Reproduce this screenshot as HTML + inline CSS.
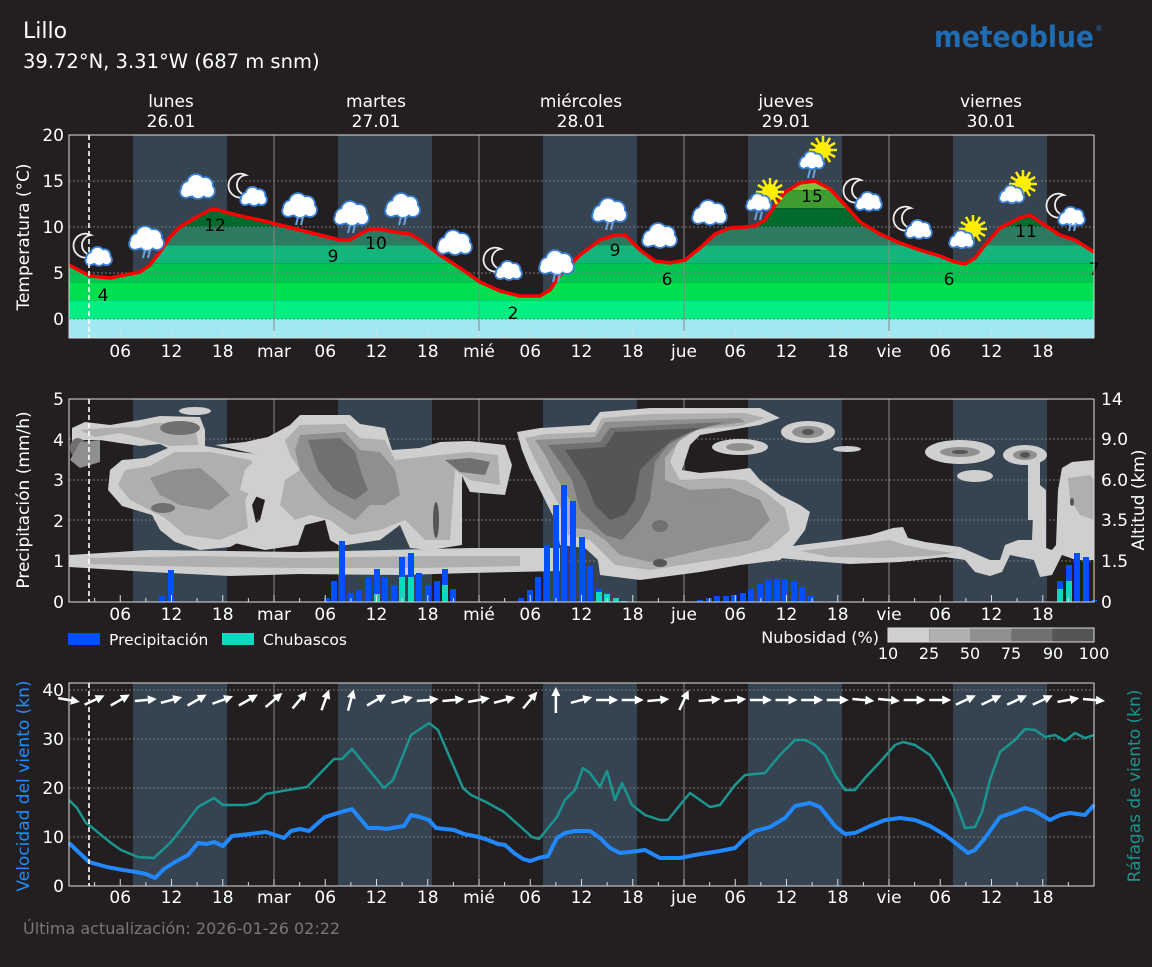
<!DOCTYPE html>
<html><head><meta charset="utf-8">
<style>
html,body{margin:0;padding:0;background:#231f20;}
body{width:1152px;height:963px;overflow:hidden;font-family:"DejaVu Sans","Liberation Sans",sans-serif;}
svg text{font-family:"DejaVu Sans","Liberation Sans",sans-serif;}
</style></head>
<body>
<svg id="s" width="1152" height="963" viewBox="0 0 1152 963" xmlns="http://www.w3.org/2000/svg">
<rect width="1152" height="963" fill="#231f20"/>
<text x="23" y="38" fill="#fff" font-size="22">Lillo</text>
<text x="23" y="68" fill="#fff" font-size="19.5">39.72°N, 3.31°W (687 m snm)</text>
<text x="934" y="47" fill="#1f6cb3" font-size="29" font-weight="bold" textLength="160" lengthAdjust="spacingAndGlyphs">meteoblue</text>
<text x="1095" y="31" fill="#1f6cb3" font-size="8">®</text>
<g fill="#fff" font-size="17" text-anchor="middle">
<text x="171" y="107">lunes</text><text x="171" y="127">26.01</text>
<text x="376" y="107">martes</text><text x="376" y="127">27.01</text>
<text x="581" y="107">miércoles</text><text x="581" y="127">28.01</text>
<text x="786" y="107">jueves</text><text x="786" y="127">29.01</text>
<text x="991" y="107">viernes</text><text x="991" y="127">30.01</text>
</g>
<defs>
<clipPath id="tclip"><path id="tpath"/></clipPath>
</defs>
<g id="g1"></g>
<g id="g2"></g>
<g id="g3"></g>
<!-- legend -->
<rect x="68" y="633" width="32" height="12" fill="#0050ff"/>
<text x="109" y="645" fill="#fff" font-size="15.5">Precipitación</text>
<rect x="222" y="633" width="32" height="12" fill="#10d8c0"/>
<text x="263" y="645" fill="#fff" font-size="15.5">Chubascos</text>
<text x="879" y="643" fill="#fff" font-size="16" text-anchor="end">Nubosidad (%)</text>
<rect x="888" y="628" width="41.2" height="14" fill="#cfcfcf"/>
<rect x="929.2" y="628" width="41.2" height="14" fill="#afafaf"/>
<rect x="970.4" y="628" width="41.2" height="14" fill="#8f8f8f"/>
<rect x="1011.6" y="628" width="41.2" height="14" fill="#707070"/>
<rect x="1052.8" y="628" width="41.2" height="14" fill="#555"/>
<rect x="888" y="628" width="206" height="14" fill="none" stroke="#ddd" stroke-width="1"/>
<g fill="#fff" font-size="16" text-anchor="middle">
<text x="888" y="659">10</text><text x="929" y="659">25</text><text x="970" y="659">50</text><text x="1011" y="659">75</text><text x="1053" y="659">90</text><text x="1094" y="659">100</text>
</g>
<text x="23" y="934" fill="#777" font-size="16">Última actualización: 2026-01-26 02:22</text>
</svg>
<script>
const NS="http://www.w3.org/2000/svg";
function el(p,tag,attrs,txt){const e=document.createElementNS(NS,tag);for(const k in attrs)e.setAttribute(k,attrs[k]);if(txt!==undefined)e.textContent=txt;p.appendChild(e);return e;}
const X=h=>69+h*205/24;
const L=69,R=1094;
const g1=document.getElementById('g1'),g2=document.getElementById('g2'),g3=document.getElementById('g3');
const days=[[133,227],[338,432],[543,637],[748,842],[953,1047]];
function bg(g,top,bot){
  el(g,'rect',{x:L,y:top,width:R-L,height:bot-top,fill:'#231f20'});
  days.forEach(d=>el(g,'rect',{x:d[0],y:top,width:d[1]-d[0],height:bot-top,fill:'#354450'}));
}
function vgrid(g,top,bot){[274,479,684,889].forEach(x=>el(g,'line',{x1:x,y1:top,x2:x,y2:bot,stroke:'#888','stroke-width':1}));}
function hgrid(g,ys){ys.forEach(y=>el(g,'line',{x1:L,y1:y,x2:R,y2:y,stroke:'#777','stroke-width':1,'stroke-dasharray':'2,2'}));}
function axes(g,top,bot,ly){
  for(let h=3;h<120;h+=3){const x=X(h);el(g,'line',{x1:x,y1:bot,x2:x,y2:bot-(h%6?4:7),stroke:'#ddd','stroke-width':1});}
  const names={24:'mar',48:'mié',72:'jue',96:'vie'};
  for(let h=6;h<120;h+=6){const t=names[h]||String(h%24).padStart(2,'0');el(g,'text',{x:X(h),y:ly,fill:'#fff','font-size':17,'text-anchor':'middle'},t);}
  el(g,'rect',{x:L,y:top,width:R-L,height:bot-top,fill:'none',stroke:'#ddd','stroke-width':1});
  el(g,'line',{x1:89,y1:top,x2:89,y2:bot,stroke:'#fff','stroke-width':1.6,'stroke-dasharray':'5,3'});
}
// ---------- Panel 1 ----------
bg(g1,135,338);
const tp=[[69,265],[90,276],[110,278],[130,274],[140,272],[150,265],[160,252],[170,237],[180,227],[195,218],[210,210],[215,209],[225,212],[245,217],[260,220],[280,225],[300,230],[320,235],[340,240],[350,240],[360,234],[370,229],[380,229],[395,232],[410,234],[420,240],[440,255],[460,268],[480,282],[500,291],[520,296],[540,296],[550,290],[560,275],[580,255],[600,240],[615,235],[625,235],[640,250],[655,261],[670,263],[685,260],[700,248],[715,234],[730,228],[745,227],[755,226],[765,220],[775,205],[785,192],[800,183],[815,181],[830,189],[845,205],[860,222],[880,234],[900,243],[920,250],[940,256],[955,262],[965,264],[975,258],[985,245],[1000,228],[1020,218],[1030,215],[1040,222],[1060,235],[1075,240],[1094,252]];
const tline=tp.map((p,i)=>(i?'L':'M')+p[0]+','+p[1]).join(' ');
document.getElementById('tpath').setAttribute('d',tline+' L1094,338 L69,338 Z');
const bands=[[319,338,'#a0e8f4'],[300,319,'#00ee82'],[282,300,'#00e04e'],[263,282,'#00c650'],[245,263,'#12b67a'],[227,245,'#2c7a60'],[208,227,'#006b2c'],[190,208,'#3e9c30'],[150,190,'#7cc23a']];
const cg=el(g1,'g',{'clip-path':'url(#tclip)'});
bands.forEach(b=>{el(cg,'rect',{x:L,y:b[0],width:R-L,height:b[1]-b[0],fill:b[2]});el(cg,'line',{x1:L,y1:b[0],x2:R,y2:b[0],stroke:'rgba(0,60,30,0.35)','stroke-width':1});});
el(g1,'rect',{x:L,y:319,width:R-L,height:19,fill:'#a0e8f4'});
vgrid(g1,135,338);
hgrid(g1,[181,227,273,319]);
el(g1,'path',{d:tline,fill:'none',stroke:'#ff0000','stroke-width':3.5,'stroke-linejoin':'round'});
[['4',103,301],['12',215,231],['9',333,262],['10',376,249],['2',513,319],['9',615,256],['6',667,285],['15',812,202],['6',949,285],['11',1026,237],['7',1094,275]].forEach(t=>el(g1,'text',{x:t[1],y:t[2],fill:'#000','font-size':17,'text-anchor':'middle'},t[0]));
function cloud(g,cx,cy,s){
  const parts=[[-9,3,7],[-2,-3,8],[7,-1,7],[10,5,6],[0,5,7],[-12,6,5]];
  const gg=el(g,'g',{});
  parts.forEach(p=>el(gg,'circle',{cx:cx+p[0]*s,cy:cy+p[1]*s,r:p[2]*s+1.8,fill:'#3a80d8'}));
  parts.forEach(p=>el(gg,'circle',{cx:cx+p[0]*s,cy:cy+p[1]*s,r:p[2]*s,fill:'#fff'}));
}
function rain(g,cx,cy){el(g,'line',{x1:cx-2,y1:cy,x2:cx-4,y2:cy+8,stroke:'#6fa0e0','stroke-width':2});el(g,'line',{x1:cx+3,y1:cy,x2:cx+1,y2:cy+8,stroke:'#6fa0e0','stroke-width':2});}
function moon(g,cx,cy){el(g,'path',{d:`M${cx+4},${cy-12} A12,12 0 1 0 ${cx+6},${cy+8} A10,10 0 0 1 ${cx+4},${cy-12} Z`,fill:'#231f20',stroke:'#eee','stroke-width':1.8});}
function sun(g,cx,cy){for(let a=0;a<360;a+=30){const r=a*Math.PI/180;el(g,'line',{x1:cx+Math.cos(r)*7,y1:cy+Math.sin(r)*7,x2:cx+Math.cos(r)*14,y2:cy+Math.sin(r)*14,stroke:'#ffee00','stroke-width':2.5});}el(g,'circle',{cx:cx,cy:cy,r:8,fill:'#ffee00'});}
const icons=[['mc',95,253],['cr',147,238],['c',198,186],['mc',250,193],['cr',300,205],['cr',352,213],['cr',403,205],['c',455,242],['mc',505,267],['cr',557,262],['cr',610,210],['c',660,235],['c',710,212],['scr',762,200],['scr',815,158],['mc',865,198],['mc',915,226],['sc',965,237],['sc',1015,192],['mcr',1068,213]];
icons.forEach(i=>{const [t,x,y]=i;
  if(t[0]=='m'){moon(g1,x-8,y-6);cloud(g1,x+4,y+3,0.75);if(t=='mcr')rain(g1,x+5,y+10);}
  else if(t[0]=='s'){sun(g1,x+8,y-8);cloud(g1,x-3,y+2,0.7);if(t=='scr')rain(g1,x-3,y+12);}
  else{cloud(g1,x,y,1);if(t=='cr')rain(g1,x,y+12);}
});
axes(g1,135,338,357);
[['20',141],['15',187],['10',233],['5',279],['0',325]].forEach(t=>el(g1,'text',{x:64,y:t[1],fill:'#fff','font-size':17,'text-anchor':'end'},t[0]));
el(g1,'text',{transform:'translate(29,237) rotate(-90)',fill:'#fff','font-size':17,'text-anchor':'middle'},'Temperatura (°C)');
// ---------- Panel 2 ----------
bg(g2,399,602);
vgrid(g2,399,602);
hgrid(g2,[439,480,520,561]);
const C=['#cfcfcf','#afafaf','#8f8f8f','#707070','#555'];
function P(c,d){el(g2,'path',{d:d,fill:C[c]});}
function E(c,cx,cy,rx,ry){el(g2,'ellipse',{cx,cy,rx,ry,fill:C[c]});}
P(0,'M69,555 L150,550 L300,552 L470,548 L560,548 L560,571 L470,573 L400,575 L300,574 L230,576 L150,572 L69,567 Z');
P(1,'M90,558 L200,556 L300,558 L420,556 L520,556 L520,566 L420,568 L300,568 L200,567 L90,564 Z');
P(0,'M72,428 L85,422 L110,425 L140,420 L160,416 L200,417 L205,430 L205,446 L240,452 L265,455 L275,465 L265,480 L252,505 L258,532 L230,547 L200,550 L175,542 L160,530 L152,515 L122,506 L108,490 L110,470 L122,460 L145,458 L168,448 L160,444 L140,446 L100,440 L85,440 L72,442 Z');
P(1,'M80,430 L105,428 L140,427 L155,423 L195,424 L198,445 L170,446 L148,440 L120,433 L95,437 Z');
P(1,'M125,470 L150,466 L175,452 L210,452 L250,460 L262,470 L245,500 L248,528 L220,540 L185,535 L165,518 L130,500 L118,485 Z');
P(2,'M150,478 L175,470 L200,468 L215,480 L230,495 L210,510 L180,505 L160,495 Z');
E(3,163,508,12,5);E(3,180,428,20,7);E(3,78,448,8,10);E(0,195,411,16,4);
P(2,'M80,442 L100,440 L100,462 L80,468 L70,460 Z');
P(0,'M215,445 L245,442 L268,437 L290,425 L300,415 L350,415 L360,424 L385,428 L392,450 L420,448 L440,442 L470,441 L505,445 L512,465 L505,495 L470,492 L462,476 L462,545 L430,550 L410,548 L400,525 L380,540 L340,546 L330,540 L325,520 L305,525 L298,545 L265,550 L230,542 L260,520 L265,500 L240,490 L245,470 L260,455 Z');
P(1,'M285,440 L300,425 L345,424 L360,438 L385,440 L395,460 L430,456 L470,452 L498,455 L500,485 L470,480 L455,470 L450,540 L425,540 L405,520 L380,530 L350,535 L330,520 L310,515 L295,520 L280,505 L285,480 L300,470 L290,455 Z');
P(2,'M300,435 L345,432 L360,450 L380,452 L395,470 L400,495 L385,505 L370,505 L355,520 L330,505 L315,490 L300,470 L295,450 Z');
P(3,'M308,440 L340,438 L355,452 L362,475 L368,490 L355,500 L335,490 L318,470 Z');
P(3,'M445,460 L470,458 L490,462 L485,475 L460,472 Z');
E(4,436,520,3,18);
P(0,'M517,432 L540,428 L590,425 L600,412 L650,408 L760,408 L780,418 L760,425 L700,435 L690,445 L682,470 L700,473 L735,470 L750,468 L760,480 L780,495 L800,505 L810,512 L805,530 L790,550 L780,560 L740,565 L700,572 L640,580 L600,575 L598,560 L585,548 L560,545 L555,520 L540,490 L530,470 L522,450 Z');
P(1,'M525,438 L545,434 L595,432 L602,418 L650,414 L745,413 L765,418 L740,426 L695,430 L678,442 L670,462 L680,480 L720,478 L745,480 L765,492 L785,508 L790,530 L770,548 L740,556 L700,562 L650,570 L615,565 L600,550 L590,540 L568,535 L562,510 L548,485 L535,460 Z');
P(2,'M535,440 L595,437 L605,422 L660,420 L740,418 L745,422 L700,428 L680,440 L665,458 L665,480 L690,490 L730,488 L760,500 L770,520 L750,540 L710,548 L680,555 L650,562 L620,555 L605,540 L590,530 L575,528 L570,500 L555,475 L545,455 Z');
P(3,'M548,445 L600,442 L610,428 L660,425 L725,422 L690,432 L668,445 L655,462 L650,500 L640,520 L622,540 L605,535 L592,522 L580,510 L572,480 L560,462 Z');
P(4,'M565,450 L605,447 L615,432 L660,430 L700,428 L672,440 L655,455 L640,470 L635,500 L625,515 L610,520 L595,505 L585,480 L575,465 Z');
P(2,'M690,500 L720,495 L735,505 L725,520 L700,525 L690,515 Z');
E(4,660,563,7,4);E(3,660,526,8,6);
E(0,740,447,28,8);E(2,740,447,14,4);E(0,808,432,27,11);E(2,808,432,16,6);E(4,808,432,6,3);E(0,847,449,14,3);
P(0,'M765,550 L800,545 L840,540 L870,535 L893,528 L903,527 L908,538 L925,542 L960,547 L990,560 L1000,560 L1005,545 L1018,540 L1032,540 L1034,490 L1040,485 L1046,490 L1046,548 L1052,550 L1056,545 L1058,490 L1062,468 L1072,462 L1094,460 L1094,560 L1076,560 L1062,555 L1052,575 L1040,577 L1034,560 L1010,555 L1002,572 L990,576 L975,572 L965,560 L945,557 L900,562 L850,564 L800,560 L770,557 Z');
P(1,'M800,551 L850,545 L890,540 L905,545 L930,550 L955,553 L930,556 L880,558 L830,557 Z');
P(1,'M1068,478 L1090,475 L1094,480 L1094,520 L1080,515 L1070,500 Z');
E(0,960,452,35,12);E(2,960,452,20,5);E(4,960,452,8,2);E(0,975,476,18,6);
E(0,1025,455,22,10);E(2,1025,455,12,5);E(4,1025,455,5,3);P(0,'M1028,460 L1040,460 L1040,520 L1028,520 Z');
E(4,1072,502,2,4);
const bars=[[162,596],[171,570],[327,598],[334,581],[342,541],[351,593],[359,590],[368,577],[377,569,594],[385,577],[394,585],[402,557,577],[411,553,577],[419,573],[428,585],[437,581],[445,569,585],[453,589],
[521,598],[530,590],[538,577],[547,545],[556,505],[564,485],[573,501],[582,537],[590,566],[599,589,592],[607,593,594],[616,598,598],[624,601,601],
[700,600],[709,598],[717,596],[726,596],[734,595],[743,593],[751,589],[760,584],[768,580],[777,579],[785,579],[794,581],[802,587],[811,596],
[1060,581,589],[1069,565,581],[1077,553],[1086,557],[1094,600]];
bars.forEach(b=>{el(g2,'rect',{x:b[0]-3,y:b[1],width:6,height:602-b[1],fill:'#0050ff'});if(b[2])el(g2,'rect',{x:b[0]-3,y:b[2],width:6,height:602-b[2],fill:'#10d8c0'});});
axes(g2,399,602,620);
[['5',405],['4',446],['3',486],['2',527],['1',567],['0',608]].forEach(t=>el(g2,'text',{x:64,y:t[1],fill:'#fff','font-size':17,'text-anchor':'end'},t[0]));
[['14',405],['9.0',445],['6.0',486],['3.5',526],['1.5',567],['0',608]].forEach(t=>el(g2,'text',{x:1101,y:t[1],fill:'#fff','font-size':17},t[0]));
el(g2,'text',{transform:'translate(29,500) rotate(-90)',fill:'#fff','font-size':17,'text-anchor':'middle'},'Precipitación (mm/h)');
el(g2,'text',{transform:'translate(1144,500) rotate(-90)',fill:'#fff','font-size':17,'text-anchor':'middle'},'Altitud (km)');
// ---------- Panel 3 ----------
bg(g3,683,886);
vgrid(g3,683,886);
hgrid(g3,[690,739,788,837]);
const gust=[[69,800],[77,808],[86,823],[89,825],[111,843],[121,850],[138,857],[154,858],[171,842],[186,823],[198,807],[214,798],[223,805],[246,805],[257,802],[266,794],[282,791],[307,787],[334,759],[342,759],[352,749],[384,788],[393,780],[411,735],[429,723],[438,730],[463,788],[471,795],[486,802],[504,812],[532,837],[539,839],[557,817],[565,800],[575,790],[583,768],[590,773],[600,787],[607,771],[615,800],[622,783],[632,805],[645,815],[660,820],[668,820],[680,805],[690,793],[700,800],[710,807],[720,805],[735,785],[745,775],[765,773],[780,755],[795,740],[805,740],[815,745],[825,755],[835,775],[845,790],[855,790],[865,778],[880,762],[895,745],[903,742],[915,745],[930,755],[940,770],[955,800],[965,828],[975,827],[982,812],[990,780],[1000,752],[1015,740],[1025,729],[1035,730],[1045,737],[1055,735],[1065,741],[1075,733],[1085,738],[1094,735]];
const spd=[[69,843],[89,862],[107,867],[123,870],[136,872],[146,874],[155,878],[164,869],[175,862],[188,855],[198,843],[207,844],[214,842],[223,846],[232,836],[250,834],[266,832],[284,838],[291,831],[300,829],[309,831],[325,817],[341,812],[352,809],[368,828],[379,828],[386,829],[404,826],[411,815],[420,817],[429,820],[436,828],[454,830],[464,834],[479,837],[488,840],[498,844],[505,845],[514,853],[523,859],[530,861],[539,858],[548,856],[557,838],[565,833],[575,831],[590,831],[600,838],[610,848],[620,853],[630,852],[645,850],[660,858],[680,858],[695,855],[720,851],[735,848],[745,838],[755,831],[770,827],[785,818],[795,806],[810,803],[820,807],[835,826],[845,834],[855,833],[870,826],[885,820],[900,818],[915,820],[930,826],[945,835],[958,845],[968,853],[975,850],[985,838],[1000,817],[1015,812],[1025,808],[1035,811],[1050,820],[1060,815],[1070,813],[1085,815],[1094,805]];
const pl=a=>a.map((p,i)=>(i?'L':'M')+p[0]+','+p[1]).join(' ');
el(g3,'path',{d:pl(gust),fill:'none',stroke:'#1a9590','stroke-width':2.5,'stroke-linejoin':'round'});
el(g3,'path',{d:pl(spd),fill:'none',stroke:'#2288ff','stroke-width':4,'stroke-linejoin':'round'});
const ang=[-10,25,30,5,15,30,20,30,40,50,70,75,30,15,5,5,10,15,50,90,15,0,0,5,65,5,5,0,0,0,0,-5,-5,0,0,25,25,25,25,10,-5];
ang.forEach((a,i)=>{const cx=69+i*25.625,cy=700,len=(a==90)?26:22;const r=a*Math.PI/180;const dx=Math.cos(r)*len/2,dy=-Math.sin(r)*len/2;
  const x2=cx+dx,y2=cy+dy;el(g3,'line',{x1:cx-dx,y1:cy-dy,x2:x2-dx*0.3,y2:y2-dy*0.3,stroke:'#fff','stroke-width':2.5});
  const ux=dx/(len/2),uy=dy/(len/2);const bx=x2-ux*9,by=y2-uy*9;
  el(g3,'polygon',{points:`${x2},${y2} ${bx-uy*4.5},${by+ux*4.5} ${bx+uy*4.5},${by-ux*4.5}`,fill:'#fff'});});
axes(g3,683,886,903);
[['40',696],['30',745],['20',794],['10',843],['0',892]].forEach(t=>el(g3,'text',{x:64,y:t[1],fill:'#fff','font-size':17,'text-anchor':'end'},t[0]));
el(g3,'text',{transform:'translate(29,786) rotate(-90)',fill:'#1f8fff','font-size':17,'text-anchor':'middle'},'Velocidad del viento (kn)');
el(g3,'text',{transform:'translate(1140,786) rotate(-90)',fill:'#1a9590','font-size':17,'text-anchor':'middle'},'Ráfagas de viento (kn)');
</script>
</body></html>
